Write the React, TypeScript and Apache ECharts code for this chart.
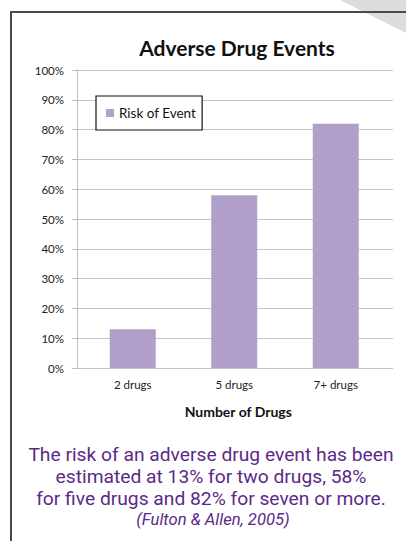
import React, { useEffect, useRef } from "react";
import * as echarts from "echarts";

const categories = ["2 drugs", "5 drugs", "7+ drugs"];
const riskValues = [0.13, 0.58, 0.82];
const seriesName = "Risk of Event";
const chartTitle = "Adverse Drug Events";
const xAxisName = "Number of Drugs";
const captionLines = [
  "The risk of an adverse drug event has been",
  "estimated at 13% for two drugs, 58%",
  "for five drugs and 82% for seven or more.",
];
const citation = "(Fulton & Allen, 2005)";

export default function App() {
  const ref = useRef<HTMLDivElement>(null);
  useEffect(() => {
    if (!ref.current) return;
    const chart = echarts.init(ref.current, undefined, { renderer: "svg" });
    const font = "Lato, 'Open Sans', sans-serif";
    const captionFont = "Roboto, 'Open Sans', sans-serif";
    const pct = (v: number) => `${Math.round(v * 100)}%`;
    chart.setOption({
      animation: false,
      backgroundColor: "#ffffff",
      title: {
        text: chartTitle,
        left: 232,
        top: 32,
        textAlign: "center",
        textStyle: { fontFamily: font, fontSize: 21, fontWeight: "bold", color: "#111" },
      },
      legend: {
        data: [seriesName],
        left: 96,
        top: 96,
        orient: "vertical",
        padding: [10, 6, 10, 10],
        borderColor: "#111",
        borderWidth: 1.2,
        backgroundColor: "#fff",
        itemWidth: 8,
        itemHeight: 8,
        icon: "rect",
        textStyle: { fontFamily: font, fontSize: 13.5, color: "#111" },
      },
      grid: [
        { left: 77, right: 13, top: 70, bottom: 173, containLabel: false },
        { left: 82, right: 19.5, top: 70, bottom: 173, containLabel: false },
      ],
      xAxis: [
        {
          gridIndex: 0,
          type: "category",
          data: categories,
          show: false,
        },
        {
          gridIndex: 1,
          type: "category",
          data: categories,
          name: xAxisName,
          nameLocation: "middle",
          nameGap: 36,
          nameTextStyle: {
            fontFamily: font,
            fontSize: 14,
            fontWeight: "bold",
            color: "#111",
            padding: [0, 0, 0, 8],
          },
          axisLine: { show: false },
          axisTick: { show: false },
          axisLabel: { fontFamily: font, fontSize: 11.5, color: "#222", margin: 10 },
        },
      ],
      yAxis: [
        {
          gridIndex: 0,
          type: "value",
          min: 0,
          max: 1,
          interval: 0.1,
          axisLine: { show: true, lineStyle: { color: "#bdbdbd", width: 1 } },
          axisTick: { show: true, length: 5, lineStyle: { color: "#bdbdbd" } },
          splitLine: { lineStyle: { color: "#c4c4c4", width: 1 } },
          axisLabel: {
            fontFamily: font,
            fontSize: 11.5,
            color: "#222",
            margin: 13,
            formatter: pct,
          },
        },
        {
          gridIndex: 1,
          type: "value",
          min: 0,
          max: 1,
          interval: 0.1,
          show: false,
          splitLine: { show: false },
        },
      ],
      series: [
        {
          name: seriesName,
          type: "bar",
          xAxisIndex: 1,
          yAxisIndex: 1,
          data: riskValues,
          barWidth: 46,
          itemStyle: { color: "#b09fc8" },
        },
      ],
      graphic: [
        {
          type: "polygon",
          shape: { points: [[340, 0], [406, 0], [406, 33]] },
          style: { fill: "#dcdcdf" },
          z: 0,
        },
        {
          type: "polyline",
          shape: { points: [[11, 541], [11, 12], [406, 12]] },
          style: { stroke: "#4a4a4a", lineWidth: 2, fill: "none" },
          z: 1,
        },
        {
          type: "text",
          x: 211,
          y: 476.7,
          scaleX: 1.04,
          style: {
            text: captionLines.join("\n"),
            fontFamily: captionFont,
            fontSize: 18.5,
            lineHeight: 21.7,
            fill: "#5b2a88",
            align: "center",
            verticalAlign: "middle",
          },
        },
        {
          type: "text",
          x: 213,
          y: 520,
          scaleX: 1.04,
          style: {
            text: citation,
            fontFamily: captionFont,
            fontSize: 16,
            fontStyle: "italic",
            fill: "#5b2a88",
            align: "center",
            verticalAlign: "middle",
          },
        },
      ],
    });
    return () => chart.dispose();
  }, []);
  return (
    <div
      ref={ref}
      style={{ position: "fixed", left: 0, top: 0, width: 406, height: 541 }}
    />
  );
}
